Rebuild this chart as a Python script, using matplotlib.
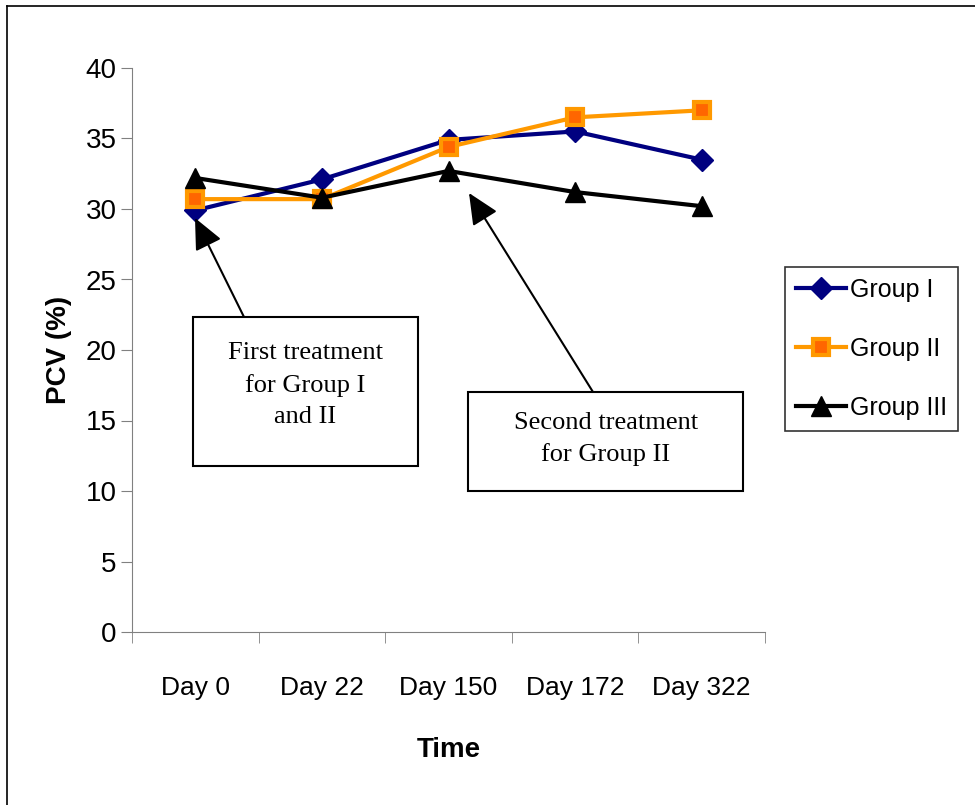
import numpy as np
import matplotlib
matplotlib.use("Agg")
from matplotlib import pyplot as plt
from matplotlib.patches import Rectangle, FancyArrowPatch

# Data
days = ["Day 0", "Day 22", "Day 150", "Day 172", "Day 322"]
groupI = [29.9, 32.1, 34.9, 35.5, 33.5]
groupII = [30.7, 30.7, 34.4, 36.5, 37.0]
groupIII = [32.2, 30.8, 32.7, 31.2, 30.2]

plt.rcParams['font.family'] = ['Liberation Sans', 'DejaVu Sans']

fig = plt.figure(figsize=(9.75, 8.05), dpi=100)
ax = fig.add_axes([132 / 975, 1 - 632 / 805, (765 - 132) / 975, (632 - 68) / 805])

x = np.arange(len(days))

# Draw the three series
ax.plot(x, groupI, color="#000080", lw=3, marker="D", ms=11, mfc="#000080",
        mec="#000080", label="Group I")
ax.plot(x, groupII, color="#FF9900", lw=3, marker="s", ms=12, mfc="#FF6600",
        mec="#FF9900", mew=3, label="Group II")
ax.plot(x, groupIII, color="black", lw=3, marker="^", ms=14, mfc="black",
        mec="black", label="Group III")

ax.set_xlim(-0.5, 4.5)
ax.set_ylim(0, 40)
ax.set_yticks(np.arange(0, 41, 5))
ax.set_xticks(x)
ax.set_xticklabels(days)
ax.set_xticks(np.arange(-0.5, 4.6, 1), minor=True)
ax.tick_params(axis="x", which="major", length=0, pad=32, labelsize=19)
ax.tick_params(axis="x", which="minor", length=8, direction="out")
ax.tick_params(axis="y", length=8, direction="out", labelsize=20, pad=3)
ax.spines["top"].set_visible(False)
ax.spines["right"].set_visible(False)
ax.spines["left"].set_color("#808080")
ax.spines["bottom"].set_color("#808080")
ax.tick_params(which="both", color="#808080")

ax.set_xlabel("Time", fontsize=20, fontweight="bold", labelpad=26)
ax.set_ylabel("PCV (%)", fontsize=20, fontweight="bold", labelpad=10)

# Annotation boxes with arrows
serif = ['Liberation Serif', 'DejaVu Serif']
fig.text(305 / 975, 1 - 385 / 805, "First treatment\nfor Group I\nand II", ha="center",
         va="center", fontsize=19, family=serif, linespacing=1.55)
fig.patches.append(Rectangle((193 / 975, 1 - 466 / 805), 225 / 975, 149 / 805,
                             transform=fig.transFigure, fill=False, ec="black", lw=1.5))
fig.text(606 / 975, 1 - 439 / 805, "Second treatment\nfor Group II", ha="center",
         va="center", fontsize=19, family=serif, linespacing=1.5)
fig.patches.append(Rectangle((468 / 975, 1 - 491 / 805), 275 / 975, 99 / 805,
                             transform=fig.transFigure, fill=False, ec="black", lw=1.5))

fig.add_artist(FancyArrowPatch(
    (244 / 975, 1 - 317 / 805), (195 / 975, 1 - 218 / 805), transform=fig.transFigure,
    arrowstyle="-|>,head_length=1.2,head_width=0.55", mutation_scale=16, color="black", lw=1.5,
    shrinkA=0, shrinkB=0))
fig.add_artist(FancyArrowPatch(
    (593 / 975, 1 - 392 / 805), (469 / 975, 1 - 193 / 805), transform=fig.transFigure,
    arrowstyle="-|>,head_length=1.2,head_width=0.55", mutation_scale=16, color="black", lw=1.5,
    shrinkA=0, shrinkB=0))

# Legend
leg = fig.legend(loc="upper left", bbox_to_anchor=(785 / 975, 1 - 267 / 805), fontsize=18,
                 frameon=True, fancybox=False, edgecolor="black", borderpad=0.45,
                 handlelength=2.0, handletextpad=0.15, labelspacing=1.4, borderaxespad=0)
leg.get_frame().set_linewidth(1.2)

# Outer frame (only top and left visible)
fig.add_artist(plt.Line2D([7 / 975, 7 / 975], [0, 1 - 6 / 805], transform=fig.transFigure,
                          color="black", lw=1.2))
fig.add_artist(plt.Line2D([7 / 975, 1], [1 - 6 / 805, 1 - 6 / 805], transform=fig.transFigure,
                          color="black", lw=1.2))

fig.savefig("out.png", dpi=100)
